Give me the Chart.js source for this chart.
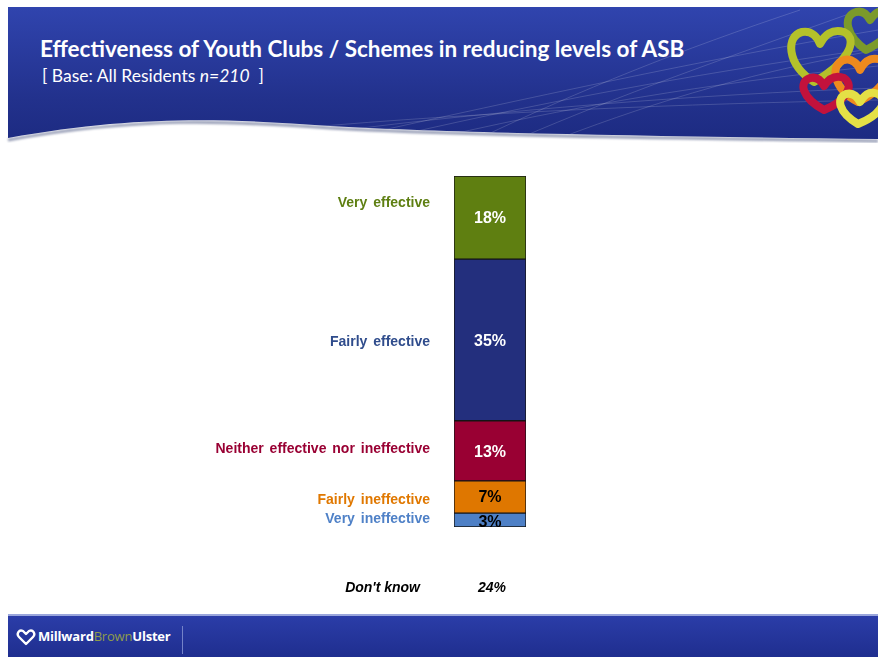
<!DOCTYPE html>
<html>
<head>
<meta charset="utf-8">
<title>Effectiveness of Youth Clubs / Schemes in reducing levels of ASB</title>
<script src="https://cdn.jsdelivr.net/npm/chart.js@4/dist/chart.umd.min.js"></script>
<style>
  html, body { margin: 0; padding: 0; background: #fff; }
  #slide { position: relative; width: 878px; height: 657px; overflow: hidden; }
  #banner { position: absolute; left: 0; top: 0; }
  #title { position: absolute; left: 40px; top: 35px; margin: 0; color: #fff;
    font: bold 22.5px Lato, "Open Sans", sans-serif; white-space: nowrap; line-height: 28px; }
  #base { position: absolute; left: 42px; top: 65px; color: #fff;
    font: 17.5px Lato, "Open Sans", sans-serif; white-space: nowrap; line-height: 22px; }
  #footer { position: absolute; left: 8px; top: 614px; width: 870px; height: 43px;
    background: linear-gradient(#2b3da8, #1f2e8f); border-top: 2px solid #9aa6dc; box-sizing: border-box; }
  #brand { position: absolute; left: 30px; top: 11px; color: #fff;
    font: bold 13px "Open Sans", sans-serif; letter-spacing: -0.2px; }
  #brand span { color: #8f9c4a; font-weight: normal; }
  #sep { position: absolute; left: 174px; top: 10px; width: 1px; height: 28px; background: #7482c8; }
  #chart { position: absolute; left: 0; top: 0; }
</style>
</head>
<body>
<div id="slide">
  <svg id="banner" width="878" height="150" viewBox="0 0 878 150">
    <defs>
      <linearGradient id="bannerFill" x1="0" y1="0" x2="0" y2="1">
        <stop offset="0" stop-color="#3044ae"/>
        <stop offset="0.7" stop-color="#22318c"/>
        <stop offset="1" stop-color="#1d2b82"/>
      </linearGradient>
      <filter id="soft"><feGaussianBlur stdDeviation="1.2"/></filter>
      <clipPath id="bannerClip">
        <path d="M8,7 H878 V139 C650,136 450,133 330,126 C230,119 140,114 8,138 Z"/>
      </clipPath>
    </defs>
    <path d="M878,141 C650,138 450,135 330,128 C230,121 140,116 8,140" fill="none" stroke="#9aa0b8" stroke-width="3" filter="url(#soft)"/>
    <path d="M8,7 H878 V139 C650,136 450,133 330,126 C230,119 140,114 8,138 Z" fill="url(#bannerFill)"/>
    <g clip-path="url(#bannerClip)" fill="none" stroke="#ffffff" stroke-opacity="0.16" stroke-width="1">
      <path d="M360,135 C520,100 700,60 878,30"/>
      <path d="M400,135 C560,98 720,70 878,48"/>
      <path d="M440,137 C600,100 740,80 878,66"/>
      <path d="M330,132 C500,110 690,95 878,88"/>
      <path d="M300,128 C480,112 680,104 878,100"/>
      <path d="M480,138 C580,90 680,50 800,10"/>
      <path d="M520,138 C620,95 720,60 860,10"/>
      <path d="M560,138 C660,100 760,70 878,50"/>
    </g>
    <!-- interlocking heart logo, top right -->
    <g clip-path="url(#bannerClip)" fill="none" stroke-width="8" stroke-linejoin="round">
      <path d="M866,50 C846,36 842,16 856,12 C864,10 868,16 870,20 C874,14 880,8 890,12 C902,20 890,38 866,50 Z" stroke="#7b9a2a"/>
      <path d="M814,82 C786,64 786,36 802,32 C812,30 818,38 820,44 C824,36 832,28 844,32 C860,40 846,64 814,82 Z" stroke="#b4c12a"/>
      <path d="M858,102 C832,88 830,64 844,60 C852,58 858,64 860,70 C864,62 870,56 882,60 C896,68 884,90 858,102 Z" stroke="#ee8a1e"/>
      <path d="M824,110 C802,98 798,82 810,78 C818,76 822,82 824,86 C828,80 834,74 844,78 C856,86 844,102 824,110 Z" stroke="#c3123c"/>
      <path d="M858,124 C838,112 836,98 846,94 C854,92 858,98 860,102 C864,96 868,90 878,94 C890,102 878,116 858,124 Z" stroke="#e4e046"/>
    </g>
  </svg>
  <h1 id="title">Effectiveness of Youth Clubs / Schemes in reducing levels of ASB</h1>
  <div id="base">[ Base: All Residents <i>n=210</i> &nbsp;]</div>
  <div id="footer">
    <svg width="20" height="20" viewBox="0 0 20 20" style="position:absolute;left:8px;top:11px">
      <path d="M10,17 L3,10 C0,7 3,2 7,4 L10,7 L13,4 C17,2 20,7 17,10 Z" fill="none" stroke="#ffffff" stroke-width="2.4" stroke-linejoin="round"/>
    </svg>
    <div id="brand">Millward<span>Brown</span>Ulster</div>
    <div id="sep"></div>
  </div>
  <canvas id="chart" width="878" height="657"></canvas>
</div>

<script>
'use strict';

// ******** DATA **************
let categories = ['Very effective', 'Fairly effective', 'Neither effective nor ineffective', 'Fairly ineffective', 'Very ineffective'];
let shares = [18, 35, 13, 7, 3];
let dontKnowLabel = 'Don\'t know';
let dontKnowShare = 24;

// ******** STYLES **************
let barColours = ['#5f7f11', '#232f7d', '#990033', '#df7700', '#4e80c6'];
let labelColours = ['#5e7f12', '#2f4c8c', '#990033', '#e07800', '#4f81c7'];
let valueColours = ['#ffffff', '#ffffff', '#ffffff', '#000000', '#000000'];
// small vertical nudges (px) for the side labels and the in-bar values
let labelNudges = [-14, 2, -2, 3, -1];
let valueNudges = [1, 2, 2, 1, 3];

let total = shares.reduce((a, b) => a + b, 0);

// Chart.js stacks from the first dataset upwards, so the bottom category goes first
let datasets = [];
for (let i = categories.length - 1; i >= 0; i--) {
  datasets.push({
    label: categories[i],
    catIndex: i,
    data: [shares[i]],
    backgroundColor: barColours[i],
    borderColor: '#151515',
    borderWidth: 1,
    borderSkipped: false,
    barPercentage: 1,
    categoryPercentage: 1
  });
}

let labelFont = '"Liberation Sans", Arial, sans-serif';

let sideLabels = {
  id: 'sideLabels',
  afterDatasetsDraw(chart) {
    let ctx = chart.ctx;
    let bar = null;
    ctx.save();
    chart.data.datasets.forEach((ds, i) => {
      bar = chart.getDatasetMeta(i).data[0];
      let k = ds.catIndex;
      let mid = (bar.y + bar.base) / 2;

      ctx.textBaseline = 'middle';
      ctx.wordSpacing = '0px';
      ctx.font = 'bold 16px ' + labelFont;
      ctx.textAlign = 'center';
      ctx.fillStyle = valueColours[k];
      ctx.fillText(ds.data[0] + '%', bar.x, mid + valueNudges[k]);

      ctx.font = 'bold 14px ' + labelFont;
      ctx.wordSpacing = '2px';
      ctx.textAlign = 'right';
      ctx.fillStyle = labelColours[k];
      ctx.fillText(ds.label, bar.x - bar.width / 2 - 24, mid + labelNudges[k]);
    });

    // Don't know row sits under the bar, outside the stack
    let y = chart.chartArea.bottom + 61;
    ctx.wordSpacing = '0px';
    ctx.font = 'italic bold 14px ' + labelFont;
    ctx.fillStyle = '#000000';
    ctx.textAlign = 'right';
    ctx.fillText(dontKnowLabel, bar.x - 70, y);
    ctx.textAlign = 'center';
    ctx.fillText(dontKnowShare + '%', bar.x + 2, y);
    ctx.restore();
  }
};

new Chart(document.getElementById('chart'), {
  type: 'bar',
  data: {
    labels: ['All Residents'],
    datasets: datasets
  },
  options: {
    responsive: false,
    animation: false,
    layout: {
      padding: { left: 454, right: 352, top: 176, bottom: 130 }
    },
    scales: {
      x: { display: false, stacked: true },
      y: { display: false, stacked: true, min: 0, max: total }
    },
    plugins: {
      legend: { display: false },
      tooltip: { enabled: false }
    }
  },
  plugins: [sideLabels]
});
</script>
</body>
</html>
